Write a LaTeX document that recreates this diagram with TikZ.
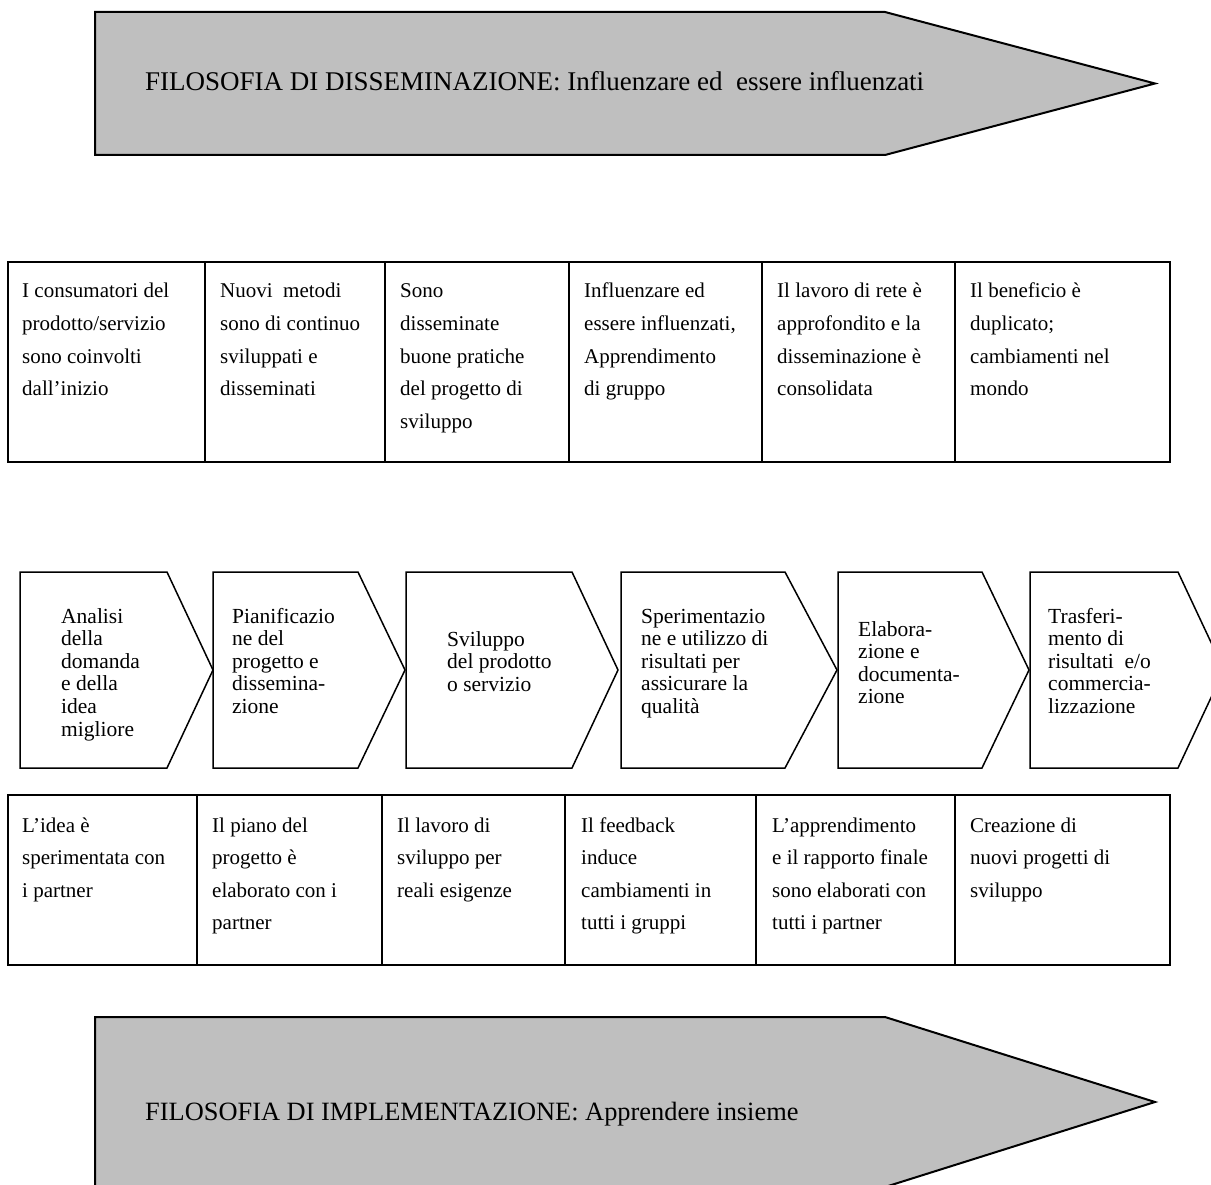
\documentclass[tikz,border=0pt]{standalone}
\usepackage{fontspec}
\setmainfont{Liberation Serif}
% text blocks: first baseline sits on the node's base anchor
\newcommand{\cellbox}[1]{\parbox[t]{200pt}{\raggedright\fontsize{21}{32.6}\selectfont #1}}
\newcommand{\stagebox}[1]{\parbox[t]{160pt}{\raggedright\fontsize{21.5}{22.6}\selectfont #1}}
\begin{document}
\begin{tikzpicture}[x=1pt,y=-1pt,
  banner/.style={draw=black,line width=2pt,fill=black!25,line join=miter},
  tablerule/.style={draw=black,line width=2.2pt},
  stageshape/.style={draw=black,line width=1.5pt,line join=miter},
  label/.style={inner sep=0pt,anchor=base west},
  bannertext/.style={inner sep=0pt,anchor=base west}]
\useasboundingbox (0,0) rectangle (1211,1185);
\clip (0,0) rectangle (1211,1185);

% top banner
\path[banner] (95,12) -- (885,12) -- (1155,83.5) -- (885,155) -- (95,155) -- cycle;
\node[bannertext,font=\fontsize{27}{30}\selectfont] (dissem) at (145,91)
  {FILOSOFIA DI DISSEMINAZIONE: Influenzare ed\ \ essere influenzati};

% upper table
\draw[tablerule] (8,262) rectangle (1170,462);
\foreach \x in {205,385,569,762,955} \draw[tablerule] (\x,262) -- (\x,462);
\node[label] (u1) at (22,298)  {\cellbox{I consumatori del\\prodotto/servizio\\sono coinvolti\\dall’inizio}};
\node[label] (u2) at (220,298) {\cellbox{Nuovi\ \ metodi\\sono di continuo\\sviluppati e\\disseminati}};
\node[label] (u3) at (400,298) {\cellbox{Sono\\disseminate\\buone pratiche\\del progetto di\\sviluppo}};
\node[label] (u4) at (584,298) {\cellbox{Influenzare ed\\essere influenzati,\\Apprendimento\\di gruppo}};
\node[label] (u5) at (777,298) {\cellbox{Il lavoro di rete è\\approfondito e la\\disseminazione è\\consolidata}};
\node[label] (u6) at (970,298) {\cellbox{Il beneficio è\\duplicato;\\cambiamenti nel\\mondo}};

% process stages
\foreach \l/\s/\p in {20/167/213, 213/358/405, 406/572/618, 621/785/837, 838/982/1029, 1030/1178/1224}
  \path[stageshape] (\l,572) -- (\s,572) -- (\p,670) -- (\s,768) -- (\l,768) -- cycle;
\node[label] (s1) at (61,623)   {\stagebox{Analisi\\della\\domanda\\e della\\idea\\migliore}};
\node[label] (s2) at (232,623)  {\stagebox{Pianificazio\\ne del\\progetto e\\dissemina-\\zione}};
\node[label] (s3) at (447,646)  {\stagebox{Sviluppo\\del prodotto\\o servizio}};
\node[label] (s4) at (641,623)  {\stagebox{Sperimentazio\\ne e utilizzo di\\risultati per\\assicurare la\\qualità}};
\node[label] (s5) at (858,636)  {\stagebox{Elabora-\\zione e\\documenta-\\zione}};
\node[label] (s6) at (1048,623) {\stagebox{Trasferi-\\mento di\\risultati\ \ e/o\\commercia-\\lizzazione}};

% lower table
\draw[tablerule] (8,795) rectangle (1170,965);
\foreach \x in {197,382,565,756,955} \draw[tablerule] (\x,795) -- (\x,965);
\node[label] (d1) at (22,832)  {\cellbox{L’idea è\\sperimentata con\\i partner}};
\node[label] (d2) at (212,832) {\cellbox{Il piano del\\progetto è\\elaborato con i\\partner}};
\node[label] (d3) at (397,832) {\cellbox{Il lavoro di\\sviluppo per\\reali esigenze}};
\node[label] (d4) at (581,832) {\cellbox{Il feedback\\induce\\cambiamenti in\\tutti i gruppi}};
\node[label] (d5) at (772,832) {\cellbox{L’apprendimento\\e il rapporto finale\\sono elaborati con\\tutti i partner}};
\node[label] (d6) at (970,832) {\cellbox{Creazione di\\nuovi progetti di\\sviluppo}};

% bottom banner
\path[banner] (95,1017) -- (885,1017) -- (1155,1102) -- (885,1187) -- (95,1187) -- cycle;
\node[bannertext,font=\fontsize{26.4}{30}\selectfont] (implem) at (145,1120)
  {FILOSOFIA DI IMPLEMENTAZIONE: Apprendere insieme};
\end{tikzpicture}
\end{document}
